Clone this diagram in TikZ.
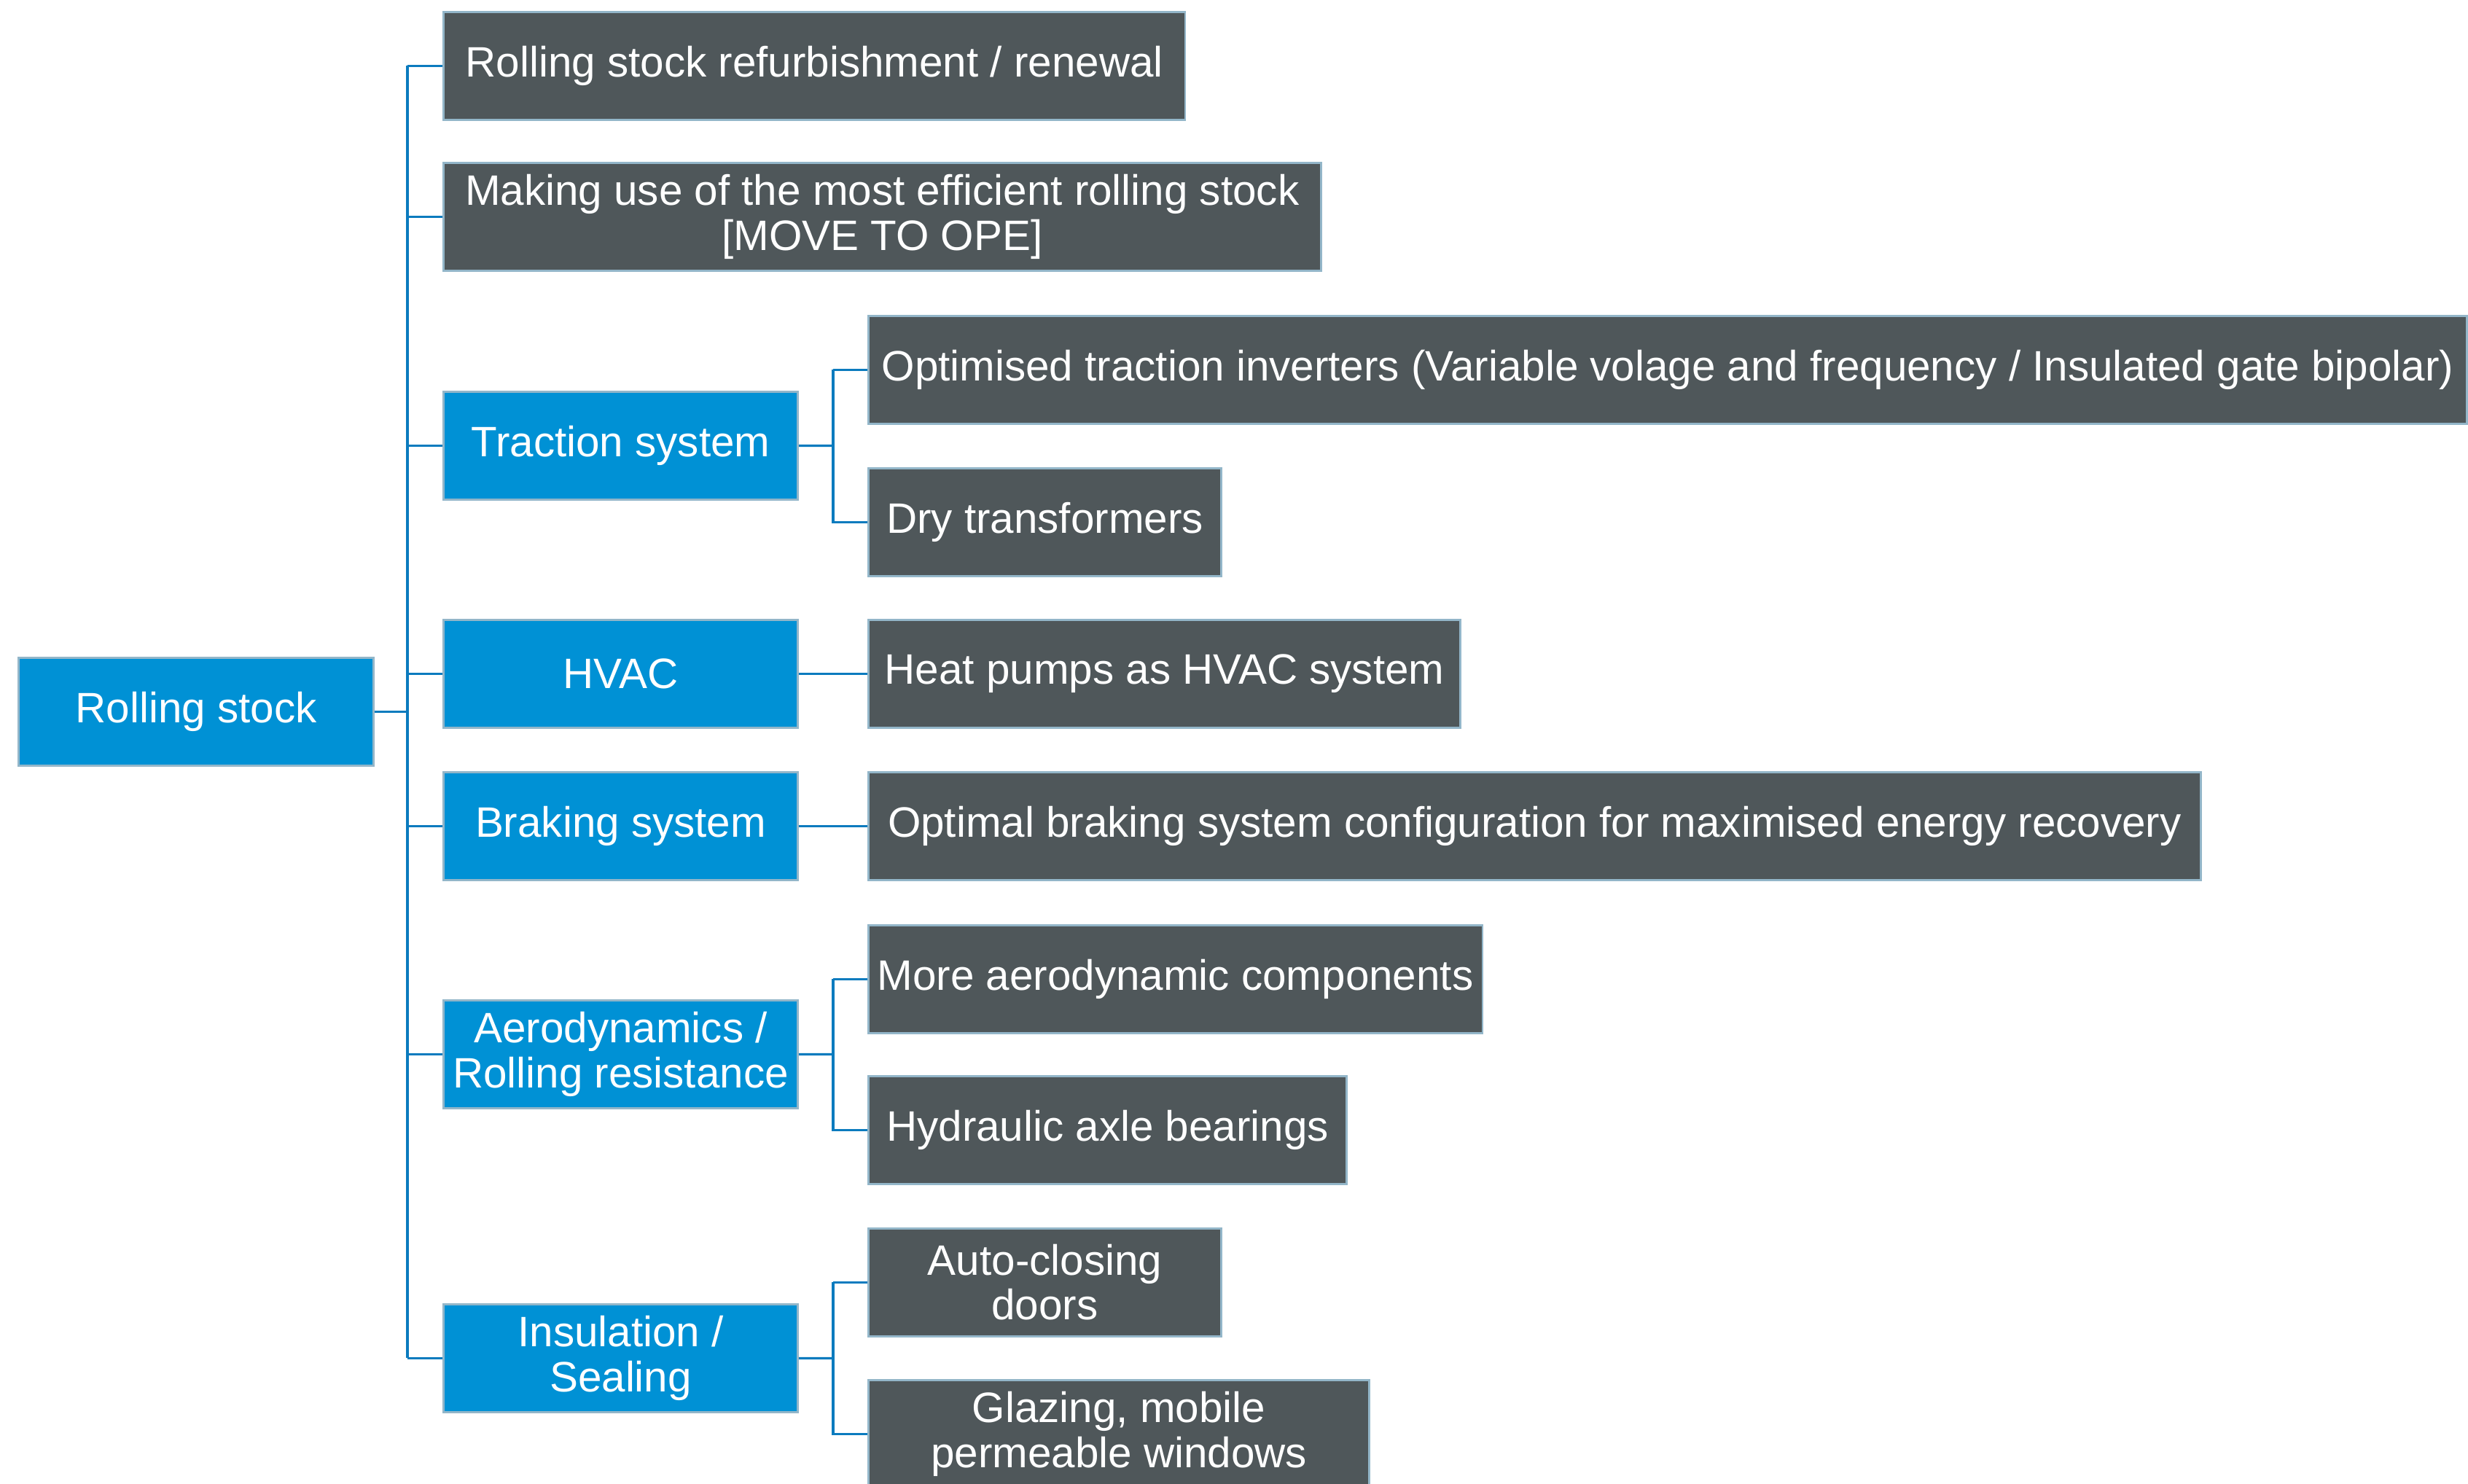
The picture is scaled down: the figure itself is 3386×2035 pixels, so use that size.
\documentclass[tikz,border=0pt]{standalone}
\usepackage{fontspec}
\setmainfont{Liberation Sans}
\usetikzlibrary{calc}

\definecolor{rsblue}{HTML}{0091D5}
\definecolor{rsgrey}{HTML}{4F575A}
\definecolor{rsedge}{HTML}{93B6C9}
\definecolor{rsline}{HTML}{0B7BBE}

\tikzset{
	box/.style={draw=rsedge, line width=0.8pt, text=white, anchor=north west,
		align=center, inner sep=0pt, minimum height=1.48cm,
		font=\fontsize{16.6}{17.4}\selectfont},
	topic/.style={box, fill=rsblue},
	item/.style={box, fill=rsgrey},
	link/.style={draw=rsline, line width=0.9pt}
}

\begin{document}
\begin{tikzpicture}[x=0.01cm, y=-0.01cm]
		\useasboundingbox (0,0) rectangle (3386,2035);
		% root and first level
		\node[topic, minimum width=4.87cm] (root)     at (24,901)   {Rolling stock};
		\node[item,  minimum width=10.17cm] (refurb)  at (607,15)   {Rolling stock refurbishment / renewal};
		\node[item,  minimum width=12.03cm] (effic)   at (607,222)  {Making use of the most efficient rolling stock\\ {[MOVE TO OPE]}};
		\node[topic, minimum width=4.86cm] (traction) at (607,536)  {Traction system};
		\node[topic, minimum width=4.86cm] (hvac)     at (607,849)  {HVAC};
		\node[topic, minimum width=4.86cm] (braking)  at (607,1058) {Braking system};
		\node[topic, minimum width=4.86cm] (aero)     at (607,1371) {Aerodynamics /\\ Rolling resistance};
		\node[topic, minimum width=4.86cm] (insul)    at (607,1788) {Insulation /\\ Sealing};
		% second level
		\node[item, minimum width=21.92cm] (inverter) at (1190,432)  {Optimised traction inverters (Variable volage and frequency / Insulated gate bipolar)};
		\node[item, minimum width=4.84cm]  (drytrans) at (1190,641)  {Dry transformers};
		\node[item, minimum width=8.12cm]  (heatpump) at (1190,849)  {Heat pumps as HVAC system};
		\node[item, minimum width=18.27cm] (optbrake) at (1190,1058) {Optimal braking system configuration for maximised energy recovery};
		\node[item, minimum width=8.42cm]  (aerocomp) at (1190,1268) {More aerodynamic components};
		\node[item, minimum width=6.56cm]  (axle)     at (1190,1475) {Hydraulic axle bearings};
		\node[item, minimum width=4.84cm]  (doors)    at (1190,1684) {Auto-closing\\ doors};
		\node[item, minimum width=6.87cm]  (windows)  at (1190,1892) {Glazing, mobile\\ permeable windows};
		% trunk
		\coordinate (trunk) at (559,975);
		\draw[link] (root.east) -- (root.east -| trunk);
		\draw[link] (trunk |- refurb.west) -- (trunk |- insul.west);
		\draw[link] (trunk |- refurb.west) -- (refurb.west);
		\draw[link] (trunk |- effic.west) -- (effic.west);
		\draw[link] (trunk |- traction.west) -- (traction.west);
		\draw[link] (trunk |- hvac.west) -- (hvac.west);
		\draw[link] (trunk |- braking.west) -- (braking.west);
		\draw[link] (trunk |- aero.west) -- (aero.west);
		\draw[link] (trunk |- insul.west) -- (insul.west);
		% forks to second level
		\coordinate (tractfork) at ($(traction.east)!0.5!(traction.east -| inverter.west)$);
		\coordinate (aerofork)  at ($(aero.east)!0.5!(aero.east -| axle.west)$);
		\coordinate (insulfork) at ($(insul.east)!0.5!(insul.east -| doors.west)$);
		\draw[link] (traction.east) -- (tractfork);
		\draw[link] (tractfork |- inverter.west) -- (inverter.west);
		\draw[link] (tractfork |- inverter.west) -- (tractfork |- drytrans.west) -- (drytrans.west);
		\draw[link] (hvac.east) -- (heatpump.west);
		\draw[link] (braking.east) -- (optbrake.west);
		\draw[link] (aero.east) -- (aerofork);
		\draw[link] (aerofork |- aerocomp.west) -- (aerocomp.west);
		\draw[link] (aerofork |- aerocomp.west) -- (aerofork |- axle.west) -- (axle.west);
		\draw[link] (insul.east) -- (insulfork);
		\draw[link] (insulfork |- doors.west) -- (doors.west);
		\draw[link] (insulfork |- doors.west) -- (insulfork |- windows.west) -- (windows.west);
	\end{tikzpicture}
\end{document}
